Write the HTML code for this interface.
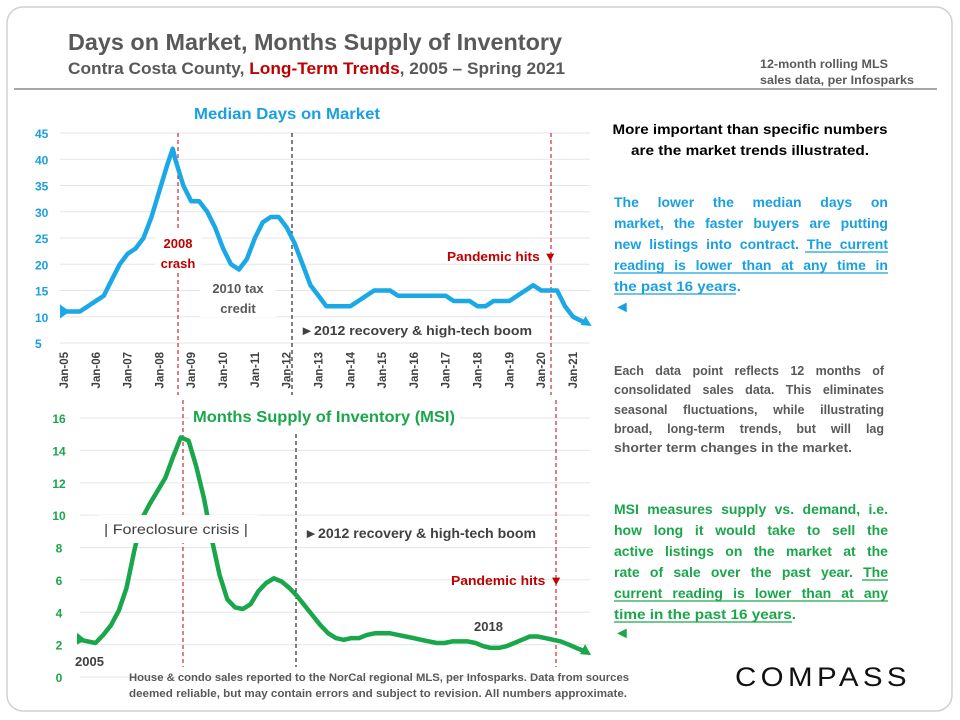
<!DOCTYPE html>
<html><head><meta charset="utf-8"><style>
html,body{margin:0;padding:0;background:#fff}
svg{display:block;font-family:"Liberation Sans",sans-serif;font-weight:bold}
</style></head><body>
<svg id="s" width="960" height="720" viewBox="0 0 960 720" xmlns="http://www.w3.org/2000/svg">
<rect x="7" y="7" width="945" height="704" rx="16" fill="#fff" stroke="#d0d0d0" stroke-width="1.5"/>
<text x="68" y="50" font-size="23" fill="#595959" textLength="494" lengthAdjust="spacingAndGlyphs">Days on Market, Months Supply of Inventory</text>
<text x="68" y="74" font-size="17" fill="#595959" textLength="497" lengthAdjust="spacingAndGlyphs">Contra Costa County, <tspan fill="#c00000">Long-Term Trends</tspan>, 2005 – Spring 2021</text>
<text x="760" y="68" font-size="12" fill="#595959" textLength="128" lengthAdjust="spacingAndGlyphs">12-month rolling MLS</text>
<text x="760" y="84" font-size="12" fill="#595959" textLength="154" lengthAdjust="spacingAndGlyphs">sales data, per Infosparks</text>
<line x1="14" y1="89" x2="937" y2="89" stroke="#8a8a8a" stroke-width="1.5"/>

<g id="top"></g>
<g id="bot"></g>

<g>
<text x="750" y="134" font-size="14" fill="#000" text-anchor="middle" textLength="275" lengthAdjust="spacingAndGlyphs">More important than specific numbers</text>
<text x="750" y="155" font-size="14" fill="#000" text-anchor="middle" textLength="238" lengthAdjust="spacingAndGlyphs">are the market trends illustrated.</text>
<g fill="#1aa0e0" font-size="14">
<text class="j" data-w="274" x="614" y="207">The lower the median days on</text>
<text class="j" data-w="274" x="614" y="228">market, the faster buyers are putting</text>
<text class="j" data-w="274" x="614" y="249">new listings into contract. The current</text>
<text class="j" data-w="274" x="614" y="270">reading is lower than at any time in</text>
<text x="614" y="291" textLength="127" lengthAdjust="spacingAndGlyphs">the past 16 years.</text>
<text x="614" y="312" font-size="16">◄</text>
</g>
<g stroke="#1aa0e0" stroke-width="1.3">
<line x1="805" y1="252" x2="888" y2="252"/><line x1="614" y1="273" x2="888" y2="273"/><line x1="614" y1="294" x2="736" y2="294"/>
</g>
<g fill="#595959" font-size="12.5">
<text class="j" data-w="270" x="614" y="375">Each data point reflects 12 months of</text>
<text class="j" data-w="270" x="614" y="394">consolidated sales data. This eliminates</text>
<text class="j" data-w="270" x="614" y="414">seasonal fluctuations, while illustrating</text>
<text class="j" data-w="270" x="614" y="433">broad, long-term trends, but will lag</text>
<text x="614" y="452" textLength="238" lengthAdjust="spacingAndGlyphs">shorter term changes in the market.</text>
</g>
<g fill="#1aa64a" font-size="14">
<text class="j" data-w="274" x="614" y="514">MSI measures supply vs. demand, i.e.</text>
<text class="j" data-w="274" x="614" y="535">how long it would take to sell the</text>
<text class="j" data-w="274" x="614" y="556">active listings on the market at the</text>
<text class="j" data-w="274" x="614" y="577">rate of sale over the past year. The</text>
<text class="j" data-w="274" x="614" y="598">current reading is lower than at any</text>
<text x="614" y="619" textLength="182" lengthAdjust="spacingAndGlyphs">time in the past 16 years.</text>
<text x="614" y="638" font-size="16">◄</text>
</g>
<g stroke="#1aa64a" stroke-width="1.3">
<line x1="862" y1="580" x2="888" y2="580"/><line x1="614" y1="601" x2="888" y2="601"/><line x1="614" y1="622" x2="792" y2="622"/>
</g>
</g>
<text x="129" y="681" font-size="11" fill="#595959" textLength="500" lengthAdjust="spacingAndGlyphs">House &amp; condo sales reported to the NorCal regional MLS, per Infosparks. Data from sources</text>
<text x="129" y="697" font-size="11" fill="#595959" textLength="498" lengthAdjust="spacingAndGlyphs">deemed reliable, but may contain errors and subject to revision. All numbers approximate.</text>
<text x="735" y="686" font-size="27" fill="#111" font-weight="normal" letter-spacing="4" textLength="176" lengthAdjust="spacingAndGlyphs">COMPASS</text>
</svg>
<script>
// Median Days on Market, quarterly from Jan-05 (month offsets)
const domMonths = [0,3,6,9,12,15,18,21,24,27,30,33,36,39,41,42,45,48,51,54,57,60,63,66,69,72,75,78,81,84,87,90,93,96,99,102,105,108,111,114,117,120,123,126,129,132,135,138,141,144,147,150,153,156,159,162,165,168,171,174,177,180,183,186,189,192,196];
const domValues = [11,11,11,12,13,14,17,20,22,23,25,29,34,39,42,40,35,32,32,30,27,23,20,19,21,25,28,29,29,27,24,20,16,14,12,12,12,12,13,14,15,15,15,14,14,14,14,14,14,14,13,13,13,12,12,13,13,13,14,15,16,15,15,15,12,10,9];
const domTicks = [5,10,15,20,25,30,35,40,45];
const xTickLabels = ["Jan-05","Jan-06","Jan-07","Jan-08","Jan-09","Jan-10","Jan-11","Jan-12","Jan-13","Jan-14","Jan-15","Jan-16","Jan-17","Jan-18","Jan-19","Jan-20","Jan-21"];
// Months Supply of Inventory, quarterly from Jan-05
const msiMonths = [0,3,6,9,12,15,18,21,24,27,30,33,36,39,42,45,48,51,54,57,60,63,66,69,72,75,78,81,84,87,90,93,96,99,102,105,108,111,114,117,120,123,126,129,132,135,138,141,144,147,150,153,156,159,162,165,168,171,174,177,180,183,186,189,192,195];
const msiValues = [2.3,2.2,2.1,2.6,3.2,4.1,5.5,7.8,9.8,10.7,11.5,12.3,13.6,14.8,14.6,13,11,8.5,6.3,4.8,4.3,4.2,4.5,5.3,5.8,6.1,5.9,5.5,5.0,4.4,3.8,3.2,2.7,2.4,2.3,2.4,2.4,2.6,2.7,2.7,2.7,2.6,2.5,2.4,2.3,2.2,2.1,2.1,2.2,2.2,2.2,2.1,1.9,1.8,1.8,1.9,2.1,2.3,2.5,2.5,2.4,2.3,2.2,2.0,1.8,1.6];
const msiTicks = [0,2,4,6,8,10,12,14,16];

const NS="http://www.w3.org/2000/svg";
function mk(p,tag,attrs,txt){const e=document.createElementNS(NS,tag);for(const k in attrs)e.setAttribute(k,attrs[k]);if(txt!==undefined)e.textContent=txt;p.appendChild(e);return e;}

document.querySelectorAll('text.j').forEach(t=>{
  const w=+t.getAttribute('data-w');const n=t.textContent.split(' ').length-1;
  const cur=t.getComputedTextLength();
  if(n>0){t.setAttribute('word-spacing',((w-cur)/n).toFixed(2));}
  if(t.getComputedTextLength()>w+1){t.setAttribute('word-spacing',0);t.setAttribute('textLength',w);t.setAttribute('lengthAdjust','spacingAndGlyphs');}
});

const tx=m=>64+m*2.651, ty=v=>343-(v-5)*(210/40);
const gTop=document.getElementById('top');
domTicks.forEach(v=>{
  const l=mk(gTop,'line',{x1:60,x2:590,y1:ty(v),y2:ty(v),stroke:'#e6e6e6','stroke-width':1});
  
  
  const t=mk(gTop,'text',{x:35,y:ty(v)+5,'font-size':12,fill:'#1aa0e0'},v);
  
  
});
xTickLabels.forEach((s,i)=>{
  const x=tx(i*12);
  const t=mk(gTop,'text',{x:0,y:0,'font-size':11.5,fill:'#404040','text-anchor':'end',transform:`translate(${x+4},352) rotate(-90)`},s);
  
  
});
const dt=mk(gTop,'text',{x:287,y:119,'font-size':16,fill:'#1aa0e0','text-anchor':'middle',textLength:186,lengthAdjust:'spacingAndGlyphs'},'Median Days on Market');


mk(gTop,'line',{x1:178,x2:178,y1:133,y2:395,stroke:'#c00000','stroke-dasharray':'4,3','stroke-width':1});
mk(gTop,'line',{x1:292,x2:292,y1:133,y2:395,stroke:'#000','stroke-dasharray':'4,3','stroke-width':1});
mk(gTop,'line',{x1:551,x2:551,y1:133,y2:395,stroke:'#c00000','stroke-dasharray':'4,3','stroke-width':1});
const dp=domMonths.map((m,i)=>`${i?'L':'M'}${tx(m).toFixed(1)},${ty(domValues[i]).toFixed(1)}`).join(' ');
const dl=mk(gTop,'path',{d:dp,fill:'none',stroke:'#1aa8e6','stroke-width':4.5,'stroke-linejoin':'round'});


{const n=domMonths.length,x=tx(domMonths[n-1]),y=ty(domValues[n-1]);
 mk(gTop,'path',{d:`M${x+8},${y+4} L${x-3},${y+3} L${x+2},${y-6}Z`,fill:'#1aa8e6'});
 const x0=tx(0),y0=ty(domValues[0]);mk(gTop,'path',{d:`M${x0-4},${y0-7} L${x0-4},${y0+7} L${x0+6},${y0}Z`,fill:'#1aa8e6'});}
mk(gTop,'rect',{x:155,y:230,width:46,height:40,fill:'#fff'});
mk(gTop,'text',{x:178,y:248,'font-size':13,fill:'#c00000','text-anchor':'middle'},'2008');
mk(gTop,'text',{x:178,y:268,'font-size':13,fill:'#c00000','text-anchor':'middle'},'crash');
mk(gTop,'rect',{x:200,y:275,width:76,height:42,fill:'#fff'});
mk(gTop,'text',{x:238,y:293,'font-size':13,fill:'#595959','text-anchor':'middle'},'2010 tax');
mk(gTop,'text',{x:238,y:313,'font-size':13,fill:'#595959','text-anchor':'middle'},'credit');
mk(gTop,'text',{x:300,y:335,'font-size':13,fill:'#404040',textLength:232,lengthAdjust:'spacingAndGlyphs'},'►2012 recovery & high-tech boom');
mk(gTop,'text',{x:447,y:261,'font-size':13,fill:'#c00000',textLength:110,lengthAdjust:'spacingAndGlyphs'},'Pandemic hits ▼');

const bx=m=>80+m*2.585, by=v=>677-v*(259/16);
const gBot=document.getElementById('bot');
msiTicks.forEach(v=>{
  const l=mk(gBot,'line',{x1:80,x2:590,y1:by(v),y2:by(v),stroke:'#e6e6e6','stroke-width':1});
  
  
  const t=mk(gBot,'text',{x:59,y:by(v)+5,'font-size':12,fill:'#1aa64a','text-anchor':'middle'},v);
  
  
});
mk(gBot,'line',{x1:183,x2:183,y1:400,y2:667,stroke:'#c00000','stroke-dasharray':'4,3','stroke-width':1});
mk(gBot,'line',{x1:296,x2:296,y1:434,y2:667,stroke:'#000','stroke-dasharray':'4,3','stroke-width':1});
mk(gBot,'line',{x1:556,x2:556,y1:400,y2:667,stroke:'#c00000','stroke-dasharray':'4,3','stroke-width':1});
mk(gBot,'rect',{x:190,y:404,width:270,height:24,fill:'#fff'});
const mt=mk(gBot,'text',{x:193,y:422,'font-size':16,fill:'#1aa64a',textLength:262,lengthAdjust:'spacingAndGlyphs'},'Months Supply of Inventory (MSI)');


const mp=msiMonths.map((m,i)=>`${i?'L':'M'}${bx(m).toFixed(1)},${by(msiValues[i]).toFixed(1)}`).join(' ');
const ml=mk(gBot,'path',{d:mp,fill:'none',stroke:'#1aa64a','stroke-width':4.5,'stroke-linejoin':'round'});


{const n=msiMonths.length,x=bx(msiMonths[n-1]),y=by(msiValues[n-1]);
 mk(gBot,'path',{d:`M${x+7},${y+4} L${x-4},${y+3} L${x+1},${y-7}Z`,fill:'#1aa64a'});
 const x0=bx(0),y0=by(msiValues[0]);mk(gBot,'path',{d:`M${x0-3},${y0-7} L${x0-3},${y0+5} L${x0+6},${y0}Z`,fill:'#1aa64a'});}
mk(gBot,'rect',{x:98,y:515,width:160,height:28,fill:'#fff'});
mk(gBot,'text',{x:104,y:534,'font-size':13.5,fill:'#404040','font-weight':'normal',textLength:144,lengthAdjust:'spacingAndGlyphs'},'|  Foreclosure crisis  |');
mk(gBot,'text',{x:304,y:538,'font-size':13.5,fill:'#404040',textLength:232,lengthAdjust:'spacingAndGlyphs'},'►2012 recovery & high-tech boom');
mk(gBot,'text',{x:451,y:585,'font-size':13,fill:'#c00000',textLength:112,lengthAdjust:'spacingAndGlyphs'},'Pandemic hits ▼');
mk(gBot,'text',{x:474,y:631,'font-size':13,fill:'#404040'},'2018');
mk(gBot,'text',{x:75,y:666,'font-size':13,fill:'#404040'},'2005');
</script>
</body></html>
